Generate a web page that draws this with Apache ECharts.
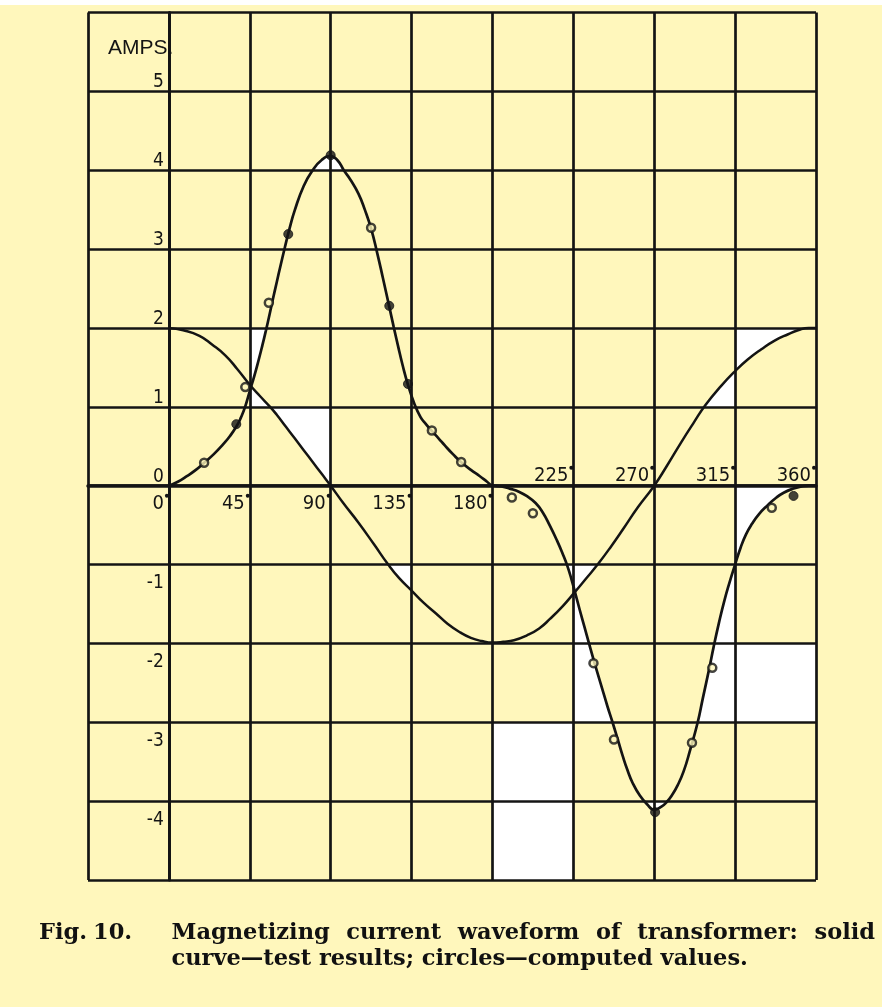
<!DOCTYPE html>
<html><head><meta charset="utf-8">
<script src="https://cdn.jsdelivr.net/npm/echarts@6/dist/echarts.min.js"></script>
<style>html,body{margin:0;padding:0;background:#FFF7BC}#c{width:882px;height:1007px}</style>
</head><body><div id="c"></div>
<script>
// ---- data (degrees, amps) ----
const xLabelsBelow = [0, 45, 90, 135, 180];
const xLabelsAbove = [225, 270, 315, 360];
const yLabels = [-4, -3, -2, -1, 0, 1, 2, 3, 4, 5];

// solid curve – test results
const testCurve = [[0,0],[5,0.05],[10,0.12],[15,0.2],[19.6,0.29],[25,0.4],[30,0.52],[34,0.63],[37.8,0.76],[40,0.86],[42.4,1.0],[45,1.2],[47.5,1.39],[50,1.6],[52,1.78],[54,1.97],[56,2.17],[58,2.38],[60,2.58],[62,2.78],[64.5,3.02],[67,3.25],[70,3.49],[75,3.8],[80,4.0],[85,4.13],[90,4.18],[94,4.12],[97.3,4.0],[101,3.88],[105.5,3.7],[109,3.5],[112.5,3.26],[116,2.94],[119,2.64],[122.5,2.28],[125,2.02],[127.5,1.77],[130,1.53],[133,1.28],[136.7,1.03],[140,0.87],[143,0.78],[146,0.7],[150,0.6],[153.5,0.51],[158,0.4],[162.5,0.3],[168,0.2],[173,0.12],[177,0.05],[180,0.0],[185,-0.01],[190,-0.04],[195,-0.08],[199,-0.13],[204,-0.22],[208,-0.34],[212,-0.51],[216,-0.7],[219,-0.86],[221.7,-1.02],[224,-1.19],[225.8,-1.34],[228.5,-1.57],[231.3,-1.8],[233.6,-1.99],[236.7,-2.24],[241,-2.57],[244,-2.8],[246.8,-3.0],[250,-3.24],[252.5,-3.43],[255,-3.6],[258,-3.77],[262,-3.93],[266,-4.04],[270,-4.11],[274,-4.07],[277,-4.01],[280,-3.92],[283,-3.8],[286.4,-3.62],[290,-3.35],[294.2,-3.0],[297,-2.7],[300.6,-2.32],[303,-2.05],[306,-1.74],[309,-1.46],[312,-1.22],[315,-1.0],[318,-0.79],[321,-0.62],[324.5,-0.48],[328.3,-0.36],[333,-0.25],[338,-0.15],[342,-0.09],[347,-0.04],[352,-0.01],[356,0],[360,0]];

// second solid curve (cosine-shaped)
const cosCurve = [[0,2.0],[8,1.97],[17,1.9],[24,1.79],[31.5,1.65],[38,1.48],[45,1.28],[50.5,1.14],[56.3,1.0],[60,0.9],[65,0.75],[70,0.6],[75,0.45],[80,0.3],[85,0.15],[90,0.0],[97,-0.22],[105.5,-0.47],[114,-0.74],[122,-1.0],[128,-1.17],[135,-1.33],[141.5,-1.48],[148.6,-1.62],[155,-1.75],[162,-1.86],[168,-1.93],[174,-1.97],[180,-1.99],[186,-1.98],[192,-1.96],[199,-1.9],[206,-1.81],[212,-1.69],[219,-1.53],[225.8,-1.35],[232,-1.18],[238.5,-1.0],[246,-0.77],[253,-0.54],[261,-0.27],[270,0.0],[277,0.25],[285,0.55],[292,0.8],[298.4,1.02],[307,1.26],[315.3,1.46],[322,1.6],[329.6,1.73],[337,1.84],[344.5,1.92],[350,1.97],[356,2.0],[360,2.0]];

// circles – computed values
const computedOpen = [[19.6,0.29],[42.5,1.25],[55.6,2.32],[112.5,3.27],[146.3,0.70],[162.6,0.30],[190.8,-0.15],[202.5,-0.35],[236.2,-2.25],[247.6,-3.22],[291,-3.26],[302.3,-2.31],[335.4,-0.28]];
const computedFilled = [[37.5,0.78],[66.4,3.19],[90,4.19],[122.6,2.28],[133,1.29],[270.5,-4.14],[347.5,-0.13]];

// unshaded (white) patches of the paper, in data units
const whiteRegions = [
  [[79.8,4],[85,4.13],[90,4.18],[94,4.12],[97.3,4]],
  [[45,1.25],[45,2],[54.3,2],[52,1.78],[50,1.6],[47.5,1.41]],
  [[45,1],[45,1.26],[50.5,1.14],[56.3,1]],
  [[56.3,1],[90,1],[90,0],[85,0.15],[80,0.3],[75,0.45],[70,0.6],[65,0.75],[60,0.9]],
  [[122,-1],[135,-1],[135,-1.33],[128,-1.17]],
  [[221.4,-1],[238.5,-1],[232,-1.18],[225.8,-1.35],[224,-1.19]],
  [[225,-1.27],[225.8,-1.34],[228.5,-1.57],[231.3,-1.8],[233.6,-1.99],[236.7,-2.24],[241,-2.57],[244,-2.8],[246.8,-3.0],[225,-3]],
  [[180,-3],[225,-3],[225,-5],[180,-5]],
  [[315,-1],[315,-3],[294.2,-3],[297,-2.7],[300.6,-2.32],[303,-2.05],[306,-1.74],[309,-1.46],[312,-1.22]],
  [[315,-2],[360,-2],[360,-3],[315,-3]],
  [[315,0],[360,0],[356,0],[352,-0.01],[347,-0.04],[342,-0.09],[338,-0.15],[333,-0.25],[328.3,-0.36],[324.5,-0.48],[321,-0.62],[318,-0.79],[315,-1]],
  [[298.4,1.0],[315,1.0],[315,2.0],[356,2.0],[350,1.97],[344.5,1.92],[337,1.84],[329.6,1.73],[322,1.6],[315.3,1.46],[307,1.26]],
  [[265.8,-4],[270,-4.11],[274,-4.07],[276.6,-4]]
];

const captionLead = [["Fig.", 39], ["10.", 93]];
const captionLine1 = ["Magnetizing", "current", "waveform", "of", "transformer:", "solid"];
const captionLine2 = "curve\u2014test results; circles\u2014computed values.";

// ---- chart ----
const YEL = '#FFF7BC';
const INK = '#141414';
const lblFont = "'Liberation Sans Narrow','DejaVu Sans Condensed','Liberation Sans',sans-serif";
const capFont = "bold 22.5px 'DejaVu Serif', 'Liberation Serif', serif";

const W = 882, H = 1007;
const G = {left: 88, right: 66, top: 12.5, bottom: 127};
const X_MIN = -45, X_MAX = 360, Y_MIN = -5, Y_MAX = 6;
// axes are shifted onto the zero lines (offset from the grid edge)
const gW = W - G.left - G.right, gH = H - G.top - G.bottom;
const zeroXOff = gW * (0 - X_MIN) / (X_MAX - X_MIN);
const zeroYFromTop = gH * (Y_MAX - 0) / (Y_MAX - Y_MIN);

// tick label = number + small raised dot (degree mark)
const degRich = {
  n: {fontFamily: lblFont, fontSize: 20, color: INK, padding: [0, 1, 0, 0]},
  d: {width: 4, height: 4, lineHeight: 4, backgroundColor: INK, borderRadius: 2, verticalAlign: 'top'}
};
function degLabel(v) { return '{n|' + v + '}{d| }'; }

// justified first caption line (from x=171.5 to x=875)
const mctx = document.createElement('canvas').getContext('2d');
mctx.font = capFont;
const wWidths = captionLine1.map(w => mctx.measureText(w).width);
const jStart = 171.5, jEnd = 875;
const gap = (jEnd - jStart - wWidths.reduce((a, b) => a + b, 0)) / (captionLine1.length - 1);
let cx = jStart;
const line1Pos = captionLine1.map((w, i) => { const p = cx; cx += wWidths[i] + gap; return [w, p]; });

const chart = echarts.init(document.getElementById('c'));
const option = {
  backgroundColor: YEL,
  animation: false,
  grid: {left: G.left, right: G.right, top: G.top, bottom: G.bottom, containLabel: false, outerBoundsMode: 'none'},
  xAxis: [
    {
      type: 'value', min: X_MIN, max: X_MAX, interval: 45, position: 'bottom', z: 3,
      offset: -(gH - zeroYFromTop),
      axisLine: {show: true, onZero: false, lineStyle: {color: INK, width: 3.5}},
      axisTick: {show: false},
      splitLine: {show: true, lineStyle: {color: INK, width: 2.7}},
      axisLabel: {
        show: true, margin: 8, align: 'right', showMinLabel: true, showMaxLabel: true,
        formatter: v => xLabelsBelow.includes(v) ? degLabel(v) : '',
        rich: degRich
      }
    },
    {
      type: 'value', min: X_MIN, max: X_MAX, interval: 45, position: 'top', z: 3,
      offset: -zeroYFromTop,
      axisLine: {show: false, onZero: false},
      axisTick: {show: false},
      splitLine: {show: false},
      axisLabel: {
        show: true, margin: 0, align: 'right', showMinLabel: true, showMaxLabel: true,
        formatter: v => xLabelsAbove.includes(v) ? degLabel(v) : '',
        rich: degRich
      }
    }
  ],
  yAxis: {
    type: 'value', min: Y_MIN, max: Y_MAX, interval: 1, z: 3,
    offset: -zeroXOff,
    axisLine: {show: true, onZero: false, lineStyle: {color: INK, width: 3}},
    axisTick: {show: false},
    splitLine: {show: true, lineStyle: {color: INK, width: 2.7}},
    axisLabel: {
      show: true, margin: 5,
      formatter: v => yLabels.includes(v) ? (v >= 0 ? '{p|' + v + '}' : '{q|' + v + '}') : '',
      rich: {
        p: {fontFamily: lblFont, fontSize: 19, color: INK, padding: [0, 0, 18, 0]},
        q: {fontFamily: lblFont, fontSize: 19, color: INK, padding: [37, 0, 0, 0]}
      }
    }
  },
  graphic: [
    {type: 'rect', left: 0, top: 0, shape: {x: 0, y: 0, width: W, height: 5}, style: {fill: '#ffffff'}, z: 0},
    {type: 'text', x: 108, y: 38, style: {text: 'AMPS.', font: "21px 'Liberation Sans', sans-serif", fill: INK}, z: 10}
  ].concat(captionLead.concat(line1Pos).map(w => ({
    type: 'text', x: w[1], y: 933, style: {text: w[0], font: capFont, fill: '#111', verticalAlign: 'middle'}, z: 10
  }))).concat([
    {type: 'text', x: 171.5, y: 959, style: {text: captionLine2, font: capFont, fill: '#111', verticalAlign: 'middle'}, z: 10}
  ]),
  series: [
    {
      type: 'custom', z: 1, silent: true, clip: true,
      data: whiteRegions.map((r, i) => [i]),
      renderItem: (params, api) => ({
        type: 'polygon',
        shape: {points: whiteRegions[params.dataIndex].map(p => api.coord(p))},
        style: {fill: '#ffffff'}
      })
    },
    {
      type: 'line', z: 4, data: cosCurve, smooth: 0.5, symbol: 'none',
      lineStyle: {color: INK, width: 2.5}
    },
    {
      type: 'line', z: 4, data: testCurve, smooth: 0.5, symbol: 'none',
      lineStyle: {color: INK, width: 2.7}
    },
    {
      type: 'scatter', z: 5, data: computedOpen, symbol: 'circle', symbolSize: 8,
      itemStyle: {color: YEL, borderColor: INK, borderWidth: 2.5}
    },
    {
      type: 'scatter', z: 5, data: computedFilled, symbol: 'circle', symbolSize: 9,
      itemStyle: {color: INK, borderColor: INK, borderWidth: 1}
    }
  ]
};
chart.setOption(option);
</script>
</body></html>
